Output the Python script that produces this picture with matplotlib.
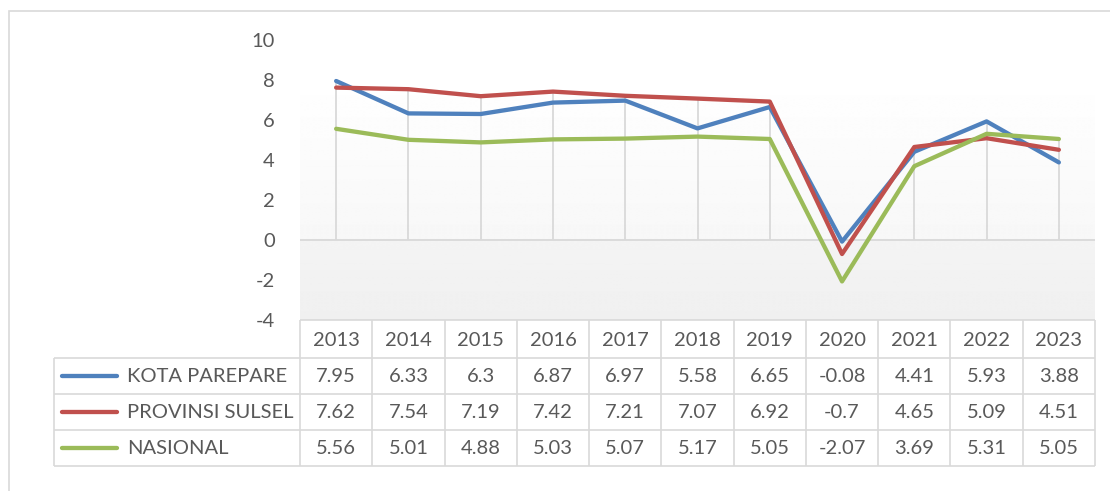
import numpy as np
import matplotlib.pyplot as plt
from matplotlib.patches import Rectangle

plt.rcParams["font.family"] = ["Lato", "DejaVu Sans"]

years = ["2013", "2014", "2015", "2016", "2017", "2018", "2019", "2020", "2021", "2022", "2023"]
kota_parepare = [7.95, 6.33, 6.3, 6.87, 6.97, 5.58, 6.65, -0.08, 4.41, 5.93, 3.88]
provinsi_sulsel = [7.62, 7.54, 7.19, 7.42, 7.21, 7.07, 6.92, -0.7, 4.65, 5.09, 4.51]
nasional = [5.56, 5.01, 4.88, 5.03, 5.07, 5.17, 5.05, -2.07, 3.69, 5.31, 5.05]

series = [
    ("KOTA PAREPARE", kota_parepare, "#4f81bd"),
    ("PROVINSI SULSEL", provinsi_sulsel, "#c0504d"),
    ("NASIONAL", nasional, "#9bbb59"),
]

W, H = 1110, 491
text_color = "#595959"
grid_color = "#d9d9d9"
fs = 14.5

fig = plt.figure(figsize=(W / 100, H / 100), dpi=100)

# outer chart border
fig.patches.append(Rectangle((9 / W, -0.2), 1.2, 1.2 - 11 / H, transform=fig.transFigure,
                             fill=False, edgecolor=grid_color, linewidth=1.2))

left_px, right_px, top_px, bottom_px = 300, 1095, 40, 320
ax = fig.add_axes([left_px / W, 1 - bottom_px / H, (right_px - left_px) / W, (bottom_px - top_px) / H])

n = len(years)
x = np.arange(n)
ax.set_xlim(-0.5, n - 0.5)
ax.set_ylim(-4, 10)

# plot area gradient (white at top, light grey toward the bottom)
yy = np.linspace(10, -4, 300)
shade = np.where(yy >= 0, np.clip((8.3 - yy) / 8.3, 0, 1) * 0.03,
                 0.045 + (-yy / 4) * 0.015)
grad = 1 - shade
ax.imshow(np.tile(grad[:, None], (1, 2)), extent=(-0.5, n - 0.5, -4, 10), aspect="auto",
          cmap="gray", vmin=0, vmax=1, zorder=0, interpolation="bilinear")

# drop lines and zero axis
tops = np.max([kota_parepare, provinsi_sulsel, nasional], axis=0)
ax.vlines(x, np.minimum(tops, 0), np.maximum(tops, 0), color=grid_color, linewidth=1.3, zorder=1)
ax.axhline(0, color=grid_color, linewidth=1.3, zorder=1)

for name, vals, color in series:
    ax.plot(x, vals, color=color, linewidth=3.1, solid_capstyle="round", zorder=3)

ax.set_yticks(range(-4, 11, 2))
ax.set_yticklabels([str(v) for v in range(-4, 11, 2)])
ax.tick_params(axis="y", length=0, pad=18, labelsize=fs, labelcolor=text_color)
ax.set_xticks([])
for s in ax.spines.values():
    s.set_visible(False)

# data table below the plot
tab_bottom = 466
axt = fig.add_axes([left_px / W, 1 - tab_bottom / H, (right_px - left_px) / W, (tab_bottom - bottom_px) / H])
axt.set_xlim(-0.5, n - 0.5)
axt.set_ylim(tab_bottom - bottom_px, 0)
axt.axis("off")

col_w = (right_px - left_px) / n
def px_to_x(p):
    return (p - left_px) / col_w - 0.5

leg_left = px_to_x(54)
row_edges = [0, 38, 74, 110, 146]
lw = 1.2

axt.hlines(0, -0.5, n - 0.5, color=grid_color, linewidth=lw, clip_on=False)
axt.hlines(row_edges[1:], leg_left, n - 0.5, color=grid_color, linewidth=lw, clip_on=False)
axt.vlines(np.arange(n + 1) - 0.5, 0, row_edges[-1], color=grid_color, linewidth=lw, clip_on=False)
axt.vlines(leg_left, row_edges[1], row_edges[-1], color=grid_color, linewidth=lw, clip_on=False)

for i, yr in enumerate(years):
    axt.text(i, (row_edges[0] + row_edges[1]) / 2 + 1, yr, ha="center", va="center",
             fontsize=fs, color=text_color)

for r, (name, vals, color) in enumerate(series):
    yc = (row_edges[r + 1] + row_edges[r + 2]) / 2 + 1
    axt.plot([px_to_x(62), px_to_x(117)], [yc - 1, yc - 1], color=color, linewidth=3.1,
             solid_capstyle="round", clip_on=False)
    axt.text(px_to_x(127), yc, name, ha="left", va="center", fontsize=fs, color=text_color,
             clip_on=False)
    for i, v in enumerate(vals):
        axt.text(i, yc, f"{v:g}", ha="center", va="center", fontsize=fs, color=text_color)

fig.savefig("out.png", dpi=100)
